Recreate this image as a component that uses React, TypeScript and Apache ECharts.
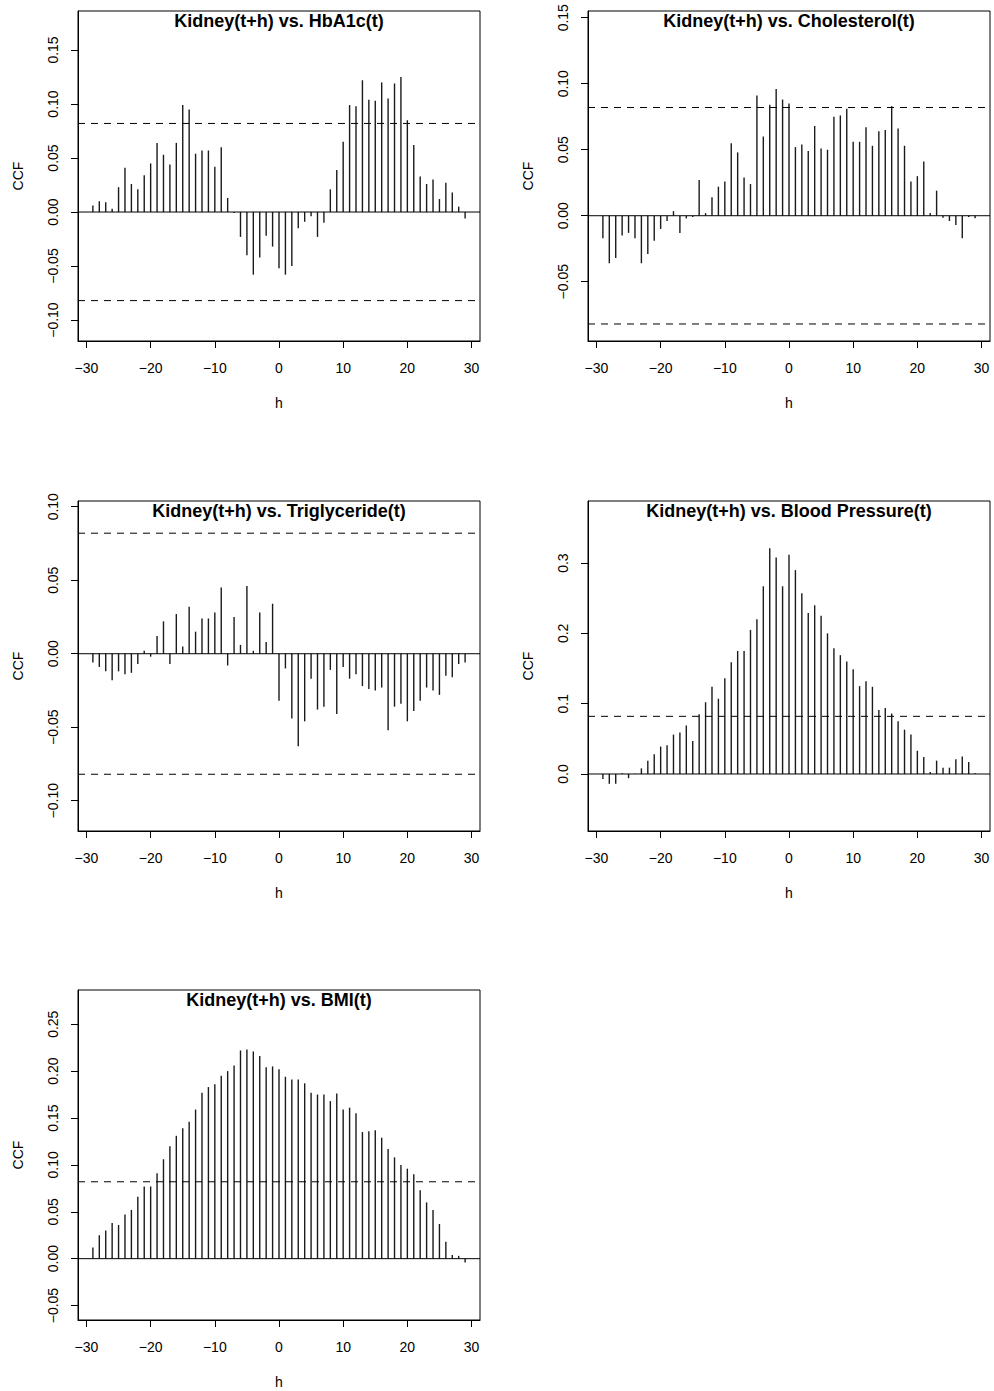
import React, { useEffect, useRef } from "react";
import * as echarts from "echarts";

// Lags h = -29 .. 29
const lags = [
  -29, -28, -27, -26, -25, -24, -23, -22, -21, -20, -19, -18, -17, -16, -15,
  -14, -13, -12, -11, -10, -9, -8, -7, -6, -5, -4, -3, -2, -1, 0, 1, 2, 3, 4,
  5, 6, 7, 8, 9, 10, 11, 12, 13, 14, 15, 16, 17, 18, 19, 20, 21, 22, 23, 24,
  25, 26, 27, 28, 29,
];

const ccfHbA1c = [
  0.006, 0.01, 0.009, 0.003, 0.023, 0.041, 0.026, 0.021, 0.034, 0.045, 0.064,
  0.053, 0.044, 0.064, 0.099, 0.095, 0.054, 0.057, 0.057, 0.042, 0.06, 0.013,
  -0.001, -0.023, -0.04, -0.058, -0.042, -0.022, -0.032, -0.052, -0.058, -0.05,
  -0.015, -0.009, -0.004, -0.023, -0.01, 0.021, 0.039, 0.065, 0.099, 0.098,
  0.122, 0.104, 0.103, 0.12, 0.105, 0.119, 0.125, 0.085, 0.062, 0.033, 0.026,
  0.03, 0.012, 0.027, 0.018, 0.005, -0.006,
];

const ccfCholesterol = [
  -0.017, -0.036, -0.032, -0.015, -0.013, -0.017, -0.036, -0.029, -0.019,
  -0.01, -0.004, 0.0035, -0.013, -0.002, -0.001, 0.027, 0.002, 0.014, 0.022,
  0.026, 0.055, 0.048, 0.029, 0.024, 0.091, 0.06, 0.084, 0.096, 0.088, 0.085,
  0.052, 0.054, 0.049, 0.068, 0.051, 0.05, 0.075, 0.076, 0.081, 0.056, 0.056,
  0.067, 0.053, 0.064, 0.065, 0.083, 0.066, 0.053, 0.026, 0.03, 0.041, 0.002,
  0.019, -0.0015, -0.004, -0.007, -0.017, -0.001, -0.002,
];

const ccfTriglyceride = [
  -0.006, -0.009, -0.012, -0.018, -0.012, -0.014, -0.013, -0.007, 0.002,
  -0.002, 0.012, 0.022, -0.007, 0.027, 0.005, 0.032, 0.015, 0.024, 0.024,
  0.028, 0.045, -0.008, 0.025, 0.006, 0.046, 0.002, 0.028, 0.008, 0.034,
  -0.032, -0.01, -0.044, -0.063, -0.046, -0.017, -0.038, -0.036, -0.011,
  -0.041, -0.009, -0.017, -0.014, -0.022, -0.024, -0.025, -0.023, -0.052,
  -0.036, -0.034, -0.046, -0.039, -0.032, -0.023, -0.025, -0.028, -0.015,
  -0.016, -0.007, -0.006,
];

const ccfBloodPressure = [
  -0.007, -0.014, -0.014, 0.001, -0.006, 0.0005, 0.008, 0.019, 0.028, 0.039,
  0.041, 0.056, 0.059, 0.069, 0.047, 0.085, 0.102, 0.124, 0.107, 0.136, 0.159,
  0.175, 0.175, 0.205, 0.22, 0.267, 0.321, 0.308, 0.267, 0.312, 0.29, 0.257,
  0.229, 0.24, 0.225, 0.2, 0.179, 0.169, 0.16, 0.149, 0.125, 0.132, 0.124,
  0.091, 0.094, 0.086, 0.075, 0.063, 0.056, 0.033, 0.024, 0.003, 0.019, 0.009,
  0.009, 0.021, 0.025, 0.017, 0.001,
];

const ccfBMI = [
  0.012, 0.025, 0.03, 0.038, 0.036, 0.047, 0.052, 0.066, 0.077, 0.077, 0.091,
  0.106, 0.12, 0.131, 0.139, 0.146, 0.159, 0.177, 0.183, 0.186, 0.195, 0.2,
  0.206, 0.222, 0.223, 0.221, 0.216, 0.204, 0.205, 0.202, 0.194, 0.191, 0.191,
  0.187, 0.177, 0.175, 0.175, 0.168, 0.176, 0.159, 0.161, 0.155, 0.135, 0.136,
  0.137, 0.129, 0.117, 0.108, 0.1, 0.096, 0.09, 0.073, 0.06, 0.052, 0.037,
  0.018, 0.004, 0.003, -0.004,
];

// 95% confidence bound drawn as dashed lines
const ciBound = 0.082;

const hTicks = [-30, -20, -10, 0, 10, 20, 30];
const yTicksHbA1c = [-0.1, -0.05, 0, 0.05, 0.1, 0.15];
const yTicksCholesterol = [-0.05, 0, 0.05, 0.1, 0.15];
const yTicksTriglyceride = [-0.1, -0.05, 0, 0.05, 0.1];
const yTicksBloodPressure = [0, 0.1, 0.2, 0.3];
const yTicksBMI = [-0.05, 0, 0.05, 0.1, 0.15, 0.2, 0.25];

const titles = [
  "Kidney(t+h) vs. HbA1c(t)",
  "Kidney(t+h) vs. Cholesterol(t)",
  "Kidney(t+h) vs. Triglyceride(t)",
  "Kidney(t+h) vs. Blood Pressure(t)",
  "Kidney(t+h) vs. BMI(t)",
];

const FONT = '"Liberation Sans", Arial, Helvetica, sans-serif';
const X_MIN = -31.32;
const X_MAX = 31.32;

type Panel = {
  title: string;
  values: number[];
  yMin: number;
  yMax: number;
  yTicks: number[];
  decimals: number;
  box: { left: number; top: number; width: number; height: number };
};

const panels: Panel[] = [
  {
    title: titles[0],
    values: ccfHbA1c,
    yMin: -0.1194,
    yMax: 0.1861,
    yTicks: yTicksHbA1c,
    decimals: 2,
    box: { left: 78, top: 11, width: 402, height: 330 },
  },
  {
    title: titles[1],
    values: ccfCholesterol,
    yMin: -0.0949,
    yMax: 0.1551,
    yTicks: yTicksCholesterol,
    decimals: 2,
    box: { left: 588, top: 11, width: 402, height: 330 },
  },
  {
    title: titles[2],
    values: ccfTriglyceride,
    yMin: -0.1206,
    yMax: 0.1039,
    yTicks: yTicksTriglyceride,
    decimals: 2,
    box: { left: 78, top: 501, width: 402, height: 330 },
  },
  {
    title: titles[3],
    values: ccfBloodPressure,
    yMin: -0.0811,
    yMax: 0.3883,
    yTicks: yTicksBloodPressure,
    decimals: 1,
    box: { left: 588, top: 501, width: 402, height: 330 },
  },
  {
    title: titles[4],
    values: ccfBMI,
    yMin: -0.0654,
    yMax: 0.2865,
    yTicks: yTicksBMI,
    decimals: 2,
    box: { left: 78, top: 990, width: 402, height: 330 },
  },
];

const minus = (s: string) => s.replace("-", "\u2212");

function buildOption() {
  const grid: any[] = [];
  const xAxis: any[] = [];
  const yAxis: any[] = [];
  const series: any[] = [];
  const graphic: any[] = [];

  panels.forEach((p, i) => {
    grid.push({
      left: p.box.left,
      top: p.box.top,
      width: p.box.width,
      height: p.box.height,
      show: true,
      borderColor: "#000",
      borderWidth: 1,
      backgroundColor: "transparent",
      containLabel: false,
    });

    xAxis.push({
      type: "value",
      gridIndex: i,
      min: X_MIN,
      max: X_MAX,
      name: "h",
      nameLocation: "middle",
      nameGap: 55,
      nameTextStyle: { fontFamily: FONT, fontSize: 14, color: "#000" },
      axisLine: {
        show: true,
        onZero: false,
        lineStyle: { color: "#000", width: 1 },
      },
      axisTick: {
        show: true,
        length: 7,
        customValues: hTicks,
        lineStyle: { color: "#000", width: 1 },
      },
      axisLabel: {
        customValues: hTicks,
        margin: 20,
        fontFamily: FONT,
        fontSize: 14,
        color: "#000",
        formatter: (v: number) => minus(String(v)),
      },
      splitLine: { show: false },
    });

    yAxis.push({
      type: "value",
      gridIndex: i,
      min: p.yMin,
      max: p.yMax,
      name: "CCF",
      nameLocation: "middle",
      nameGap: 53,
      nameRotate: 90,
      nameTextStyle: { fontFamily: FONT, fontSize: 14, color: "#000" },
      axisLine: {
        show: true,
        onZero: false,
        lineStyle: { color: "#000", width: 1 },
      },
      axisTick: {
        show: true,
        length: 7,
        customValues: p.yTicks,
        lineStyle: { color: "#000", width: 1 },
      },
      axisLabel: {
        customValues: p.yTicks,
        rotate: 90,
        margin: 18,
        fontFamily: FONT,
        fontSize: 14,
        color: "#000",
        formatter: (v: number) => minus(v.toFixed(p.decimals)),
      },
      splitLine: { show: false },
    });

    // CCF spikes from zero to each value
    series.push({
      type: "custom",
      xAxisIndex: i,
      yAxisIndex: i,
      encode: { x: 0, y: 1 },
      data: lags.map((h, k) => [h, p.values[k]]),
      renderItem: (_params: any, api: any) => {
        const h = api.value(0);
        const v = api.value(1);
        const a = api.coord([h, 0]);
        const b = api.coord([h, v]);
        return {
          type: "line",
          shape: { x1: a[0], y1: a[1], x2: b[0], y2: b[1] },
          style: { stroke: "#1a1a1a", lineWidth: 1.4 },
        };
      },
      silent: true,
    });

    // Zero line
    series.push({
      type: "line",
      xAxisIndex: i,
      yAxisIndex: i,
      data: [
        [X_MIN, 0],
        [X_MAX, 0],
      ],
      showSymbol: false,
      lineStyle: { color: "#000", width: 1 },
      silent: true,
    });

    // Confidence bounds (only those inside the visible range)
    [ciBound, -ciBound]
      .filter((c) => c >= p.yMin && c <= p.yMax)
      .forEach((c) => {
        series.push({
          type: "line",
          xAxisIndex: i,
          yAxisIndex: i,
          data: [
            [X_MIN, c],
            [X_MAX, c],
          ],
          showSymbol: false,
          lineStyle: { color: "#000", width: 1, type: [7, 6] },
          silent: true,
        });
      });

    graphic.push({
      type: "text",
      x: p.box.left + p.box.width / 2,
      y: p.box.top + 1,
      silent: true,
      style: {
        text: p.title,
        align: "center",
        verticalAlign: "top",
        font: `bold 18px ${FONT}`,
        fill: "#000",
      },
    });
  });

  return {
    animation: false,
    backgroundColor: "#fff",
    grid,
    xAxis,
    yAxis,
    series,
    graphic,
  };
}

export default function App() {
  const ref = useRef<HTMLDivElement>(null);

  useEffect(() => {
    document.body.style.margin = "0";
    if (!ref.current) return;
    const chart = echarts.init(ref.current, undefined, { renderer: "svg" });
    chart.setOption(buildOption() as any);
    return () => {
      chart.dispose();
    };
  }, []);

  return <div ref={ref} style={{ width: 994, height: 1391 }} />;
}
